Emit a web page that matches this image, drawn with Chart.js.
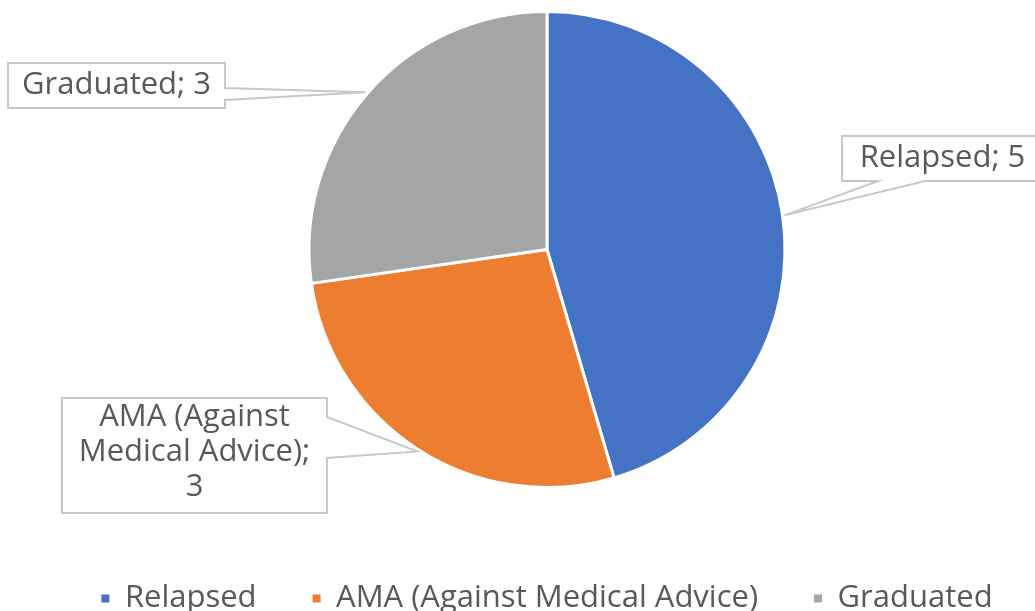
<!DOCTYPE html>
<html>
<head>
<meta charset="utf-8">
<script src="https://cdn.jsdelivr.net/npm/chart.js@4/dist/chart.umd.min.js"></script>
<style>
    html, body { margin: 0; padding: 0; background: #fff; overflow: hidden; }
    #wrap { width: 1070px; height: 652px; margin-top: -28px; position: relative; }
</style>
</head>
<body>
<div id="wrap"><canvas id="outcome-chart"></canvas></div>
<script>
const categories = ["Relapsed", "AMA (Against Medical Advice)", "Graduated"];
const counts = [5, 3, 3];
const sliceColors = ["#4472C4", "#ED7D31", "#A5A5A5"];

const textColor = "#595959";
const fontFamily = "'Open Sans', sans-serif";
const fontSize = 31;
const shiftY = 28; // canvas is pulled up by this much

// callout boxes (page coords), same order as categories
const callouts = [
    { x: 842, y: 136, w: 201, h: 45, side: "bottom", base: [36, 83], wrap: 400 },
    { x: 62, y: 398, w: 265, h: 115, side: "right", base: [19, 60], wrap: 240 },
    { x: 8, y: 63, w: 217, h: 45, side: "right", base: [25, 37], wrap: 400 },
];

function wrapText(ctx, text, maxWidth) {
    const words = text.split(" ");
    const lines = [];
    let line = "";
    words.forEach(word => {
        const test = line ? line + " " + word : word;
        if (line && ctx.measureText(test).width > maxWidth) {
            lines.push(line);
            line = word;
        } else {
            line = test;
        }
    });
    if (line) lines.push(line);
    return lines;
}

const calloutPlugin = {
    id: "callouts",
    afterDatasetsDraw(chart) {
        const ctx = chart.ctx;
        const arcs = chart.getDatasetMeta(0).data;
        ctx.save();
        ctx.font = fontSize + "px " + fontFamily;
        arcs.forEach((arc, i) => {
            const c = callouts[i];
            const { x, y, startAngle, endAngle, outerRadius } = arc.getProps(["x", "y", "startAngle", "endAngle", "outerRadius"], true);
            const mid = (startAngle + endAngle) / 2;
            const tipX = x + Math.cos(mid) * (outerRadius + 2);
            const tipY = y + Math.sin(mid) * (outerRadius + 2);
            const left = c.x, top = c.y + shiftY, right = c.x + c.w, bottom = top + c.h;

            ctx.beginPath();
            ctx.moveTo(left, top);
            ctx.lineTo(right, top);
            if (c.side === "right") {
                ctx.lineTo(right, top + c.base[0]);
                ctx.lineTo(tipX, tipY);
                ctx.lineTo(right, top + c.base[1]);
                ctx.lineTo(right, bottom);
                ctx.lineTo(left, bottom);
            } else {
                ctx.lineTo(right, bottom);
                ctx.lineTo(left + c.base[1], bottom);
                ctx.lineTo(tipX, tipY);
                ctx.lineTo(left + c.base[0], bottom);
                ctx.lineTo(left, bottom);
            }
            ctx.closePath();
            ctx.fillStyle = "#fff";
            ctx.fill();
            ctx.strokeStyle = "#C8C8C8";
            ctx.lineWidth = 2;
            ctx.stroke();

            const label = chart.data.labels[i] + "; " + chart.data.datasets[0].data[i];
            const lines = wrapText(ctx, label, c.wrap);
            const lineHeight = 35;
            ctx.fillStyle = textColor;
            ctx.textAlign = "center";
            ctx.textBaseline = "middle";
            const startY = top + c.h / 2 - (lines.length - 1) * lineHeight / 2 - (lines.length > 1 ? 3 : 0);
            lines.forEach((ln, k) => {
                ctx.fillText(ln, left + c.w / 2, startY + k * lineHeight);
            });
        });
        ctx.restore();
    }
};

new Chart(document.getElementById("outcome-chart"), {
    type: "pie",
    data: {
        labels: categories,
        datasets: [{
            data: counts,
            backgroundColor: sliceColors,
            borderColor: "#fff",
            borderWidth: 3,
            radius: 238,
        }],
    },
    options: {
        responsive: true,
        maintainAspectRatio: false,
        animation: false,
        layout: { padding: { left: 24, right: 0, top: 0, bottom: 0 } },
        plugins: {
            tooltip: { enabled: false },
            legend: {
                position: "bottom",
                labels: {
                    boxWidth: 8,
                    boxHeight: 8,
                    padding: 56,
                    color: textColor,
                    font: { family: fontFamily, size: fontSize },
                    generateLabels(chart) {
                        const items = Chart.overrides.pie.plugins.legend.labels.generateLabels(chart);
                        items.forEach(item => { item.lineWidth = 0; });
                        return items;
                    },
                },
            },
        },
    },
    plugins: [calloutPlugin],
});
</script>
</body>
</html>
